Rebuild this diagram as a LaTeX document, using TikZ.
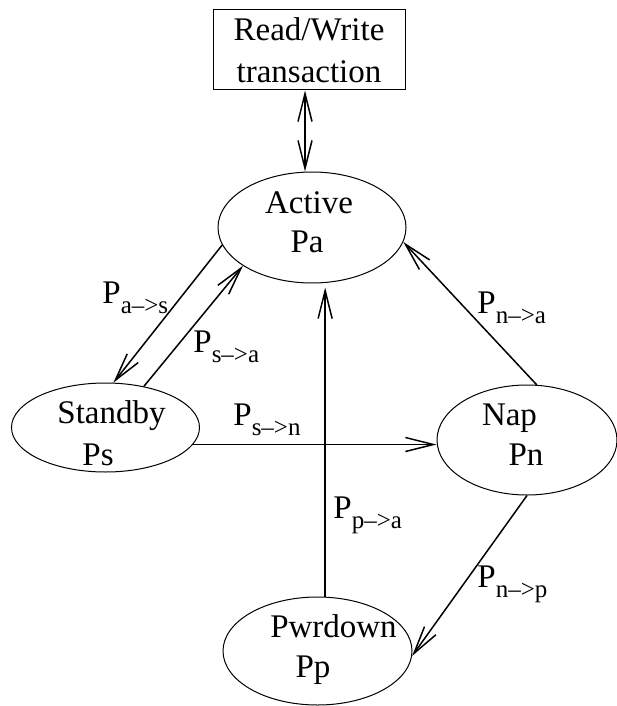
\documentclass[tikz,border=0pt]{standalone}
\usepackage{fontspec}
\setmainfont{Liberation Serif}
\usepackage{tikz}
\usetikzlibrary{arrows.meta,positioning,shapes.geometric}
\newcommand{\ptrans}[2]{P\raisebox{-5pt}{\fontsize{12.5}{15}\selectfont #1--{>}#2}}

\begin{document}
\begin{tikzpicture}[x=0.5pt, y=-0.5pt,
  state/.style={draw, ellipse, line width=0.5pt, inner sep=0pt},
  txt/.style={font=\fontsize{16.5}{21}\selectfont, inner sep=0pt, anchor=base},
  lbl/.style={font=\fontsize{16.5}{21}\selectfont, inner sep=0pt, anchor=base west},
  trans/.style={-{Straight Barb[length=14pt, width=7pt]}, line width=0.75pt}]
\useasboundingbox (0,0) rectangle (616,706);

\node[draw, line width=0.5pt, align=center, minimum width=96pt, minimum height=40pt,
  inner sep=0pt, font=\fontsize{16.5}{21}\selectfont] (rw) at (309,50) {Read/Write\\transaction};

\node[state, minimum width=94pt, minimum height=55.5pt] (active) at (312,227.5) {};
\node[state, minimum width=94pt, minimum height=44.5pt] (standby) at (105.5,427.5) {};
\node[state, minimum width=90pt, minimum height=55pt] (nap) at (527,440) {};
\node[state, minimum width=94.5pt, minimum height=54pt] (pwrdown) at (317.5,651) {};

\node[txt] (activename) at (309,213) {Active};
\node[txt] (activepow) at (307,252) {Pa};
\node[txt] (standbyname) at (111.5,423) {Standby};
\node[txt] (standbypow) at (98,465) {Ps};
\node[txt] (napname) at (509.5,425) {Nap};
\node[txt] (nappow) at (526,465) {Pn};
\node[txt] (pwrdownname) at (333.5,637) {Pwrdown};
\node[txt] (pwrdownpow) at (313,677) {Pp};

\node[lbl] (las) at (102,303) {\ptrans{a}{s}};
\node[lbl] (lsa) at (193,352) {\ptrans{s}{a}};
\node[lbl] (lsn) at (233,425) {\ptrans{s}{n}};
\node[lbl] (lpa) at (333,518) {\ptrans{p}{a}};
\node[lbl] (lna) at (477,313) {\ptrans{n}{a}};
\node[lbl] (lnp) at (477,587) {\ptrans{n}{p}};

\draw[trans, {Straight Barb[length=14pt, width=7pt]}-{Straight Barb[length=14pt, width=7pt]}]
  (rw.south -| 305,0) -- (active.north -| 305,0);
\draw[trans] (active.191) -- (standby.80);
\draw[trans] (standby.47) -- (active.209);
\draw[trans] (standby.349) -- (standby.349 -| nap.west);
\draw[trans, shorten >=2pt] (pwrdown.82) -- (pwrdown.82 |- active.south);
\draw[trans] (nap.80) -- (active.351);
\draw[trans] (nap.south) -- (pwrdown.357);
\end{tikzpicture}
\end{document}
